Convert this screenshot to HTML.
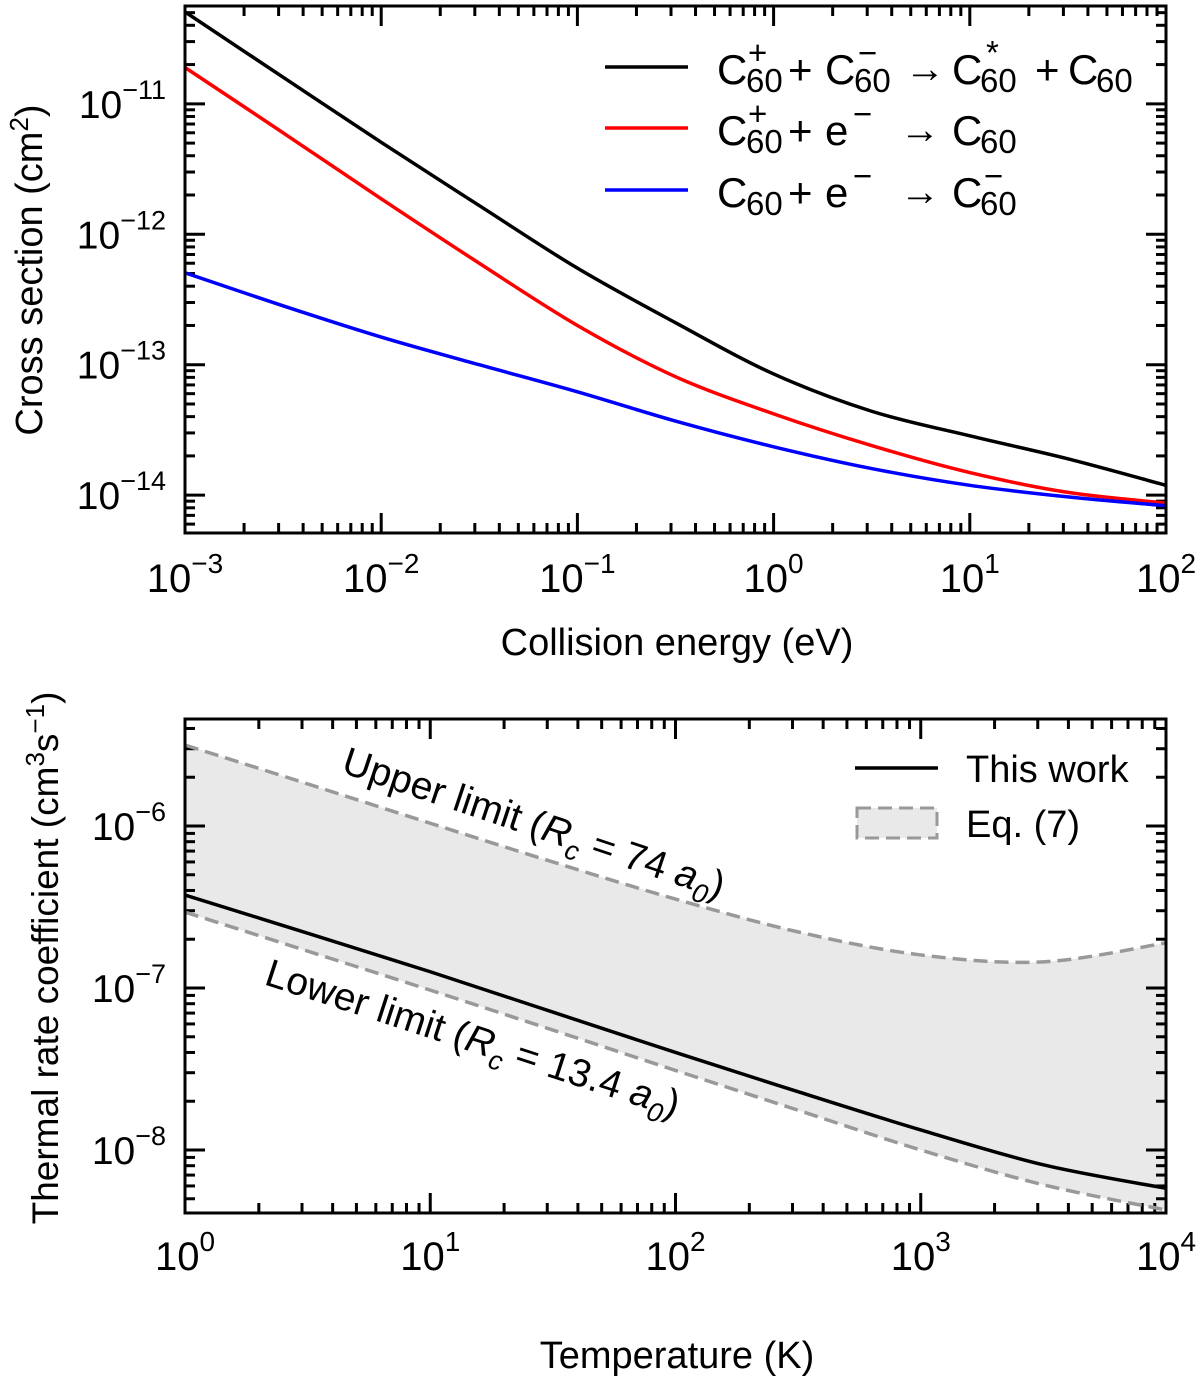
<!DOCTYPE html>
<html><head><meta charset="utf-8"><style>
html,body{margin:0;padding:0;background:#fff}
svg{display:block;font-family:"Liberation Sans","DejaVu Sans",sans-serif}
</style></head><body>
<svg id="fig" width="1200" height="1380" viewBox="0 0 1200 1380">
<defs>
<clipPath id="c1"><rect x="185" y="6" width="981" height="527"/></clipPath>
<clipPath id="c2"><rect x="185" y="719" width="981" height="494"/></clipPath>
</defs>
<g id="top"></g>
<g id="bot"></g>
</svg>
<script>
// ---- Panel 1 data ----
const energies=[1e-3,3.16e-3,1e-2,3.16e-2,1e-1,0.316,1,3.16,10,31.6,100];
const csCC=[5.07e-11,1.6e-11,5.07e-12,1.66e-12,5.5e-13,2.1e-13,8.5e-14,4.4e-14,2.85e-14,1.9e-14,1.19e-14];
const csCe=[1.9e-11,6.0e-12,1.87e-12,6.0e-13,2.0e-13,8.1e-14,4.2e-14,2.4e-14,1.49e-14,1.05e-14,8.7e-15];
const csNe=[5.07e-13,2.83e-13,1.63e-13,1.0e-13,6.2e-14,3.7e-14,2.35e-14,1.6e-14,1.19e-14,9.7e-15,8.3e-15];
const xTicks1=[-3,-2,-1,0,1,2];
const yTicks1=[-11,-12,-13,-14];
// ---- Panel 2 data ----
const temps=[1,3.16,10,31.6,100,316,1000,3162,10000];
const rateWork=[3.75e-7,2.18e-7,1.26e-7,7.1e-8,4.0e-8,2.29e-8,1.33e-8,8.1e-9,5.8e-9];
const rateLower=[2.94e-7,1.69e-7,9.7e-8,5.5e-8,3.1e-8,1.76e-8,1.0e-8,6.1e-9,4.26e-9];
const rateUpper=[3.16e-6,1.82e-6,1.04e-6,6.0e-7,3.54e-7,2.22e-7,1.6e-7,1.45e-7,1.9e-7];
const xTicks2=[0,1,2,3,4];
const yTicks2=[-6,-7,-8];

const NS="http://www.w3.org/2000/svg";
function mk(p,tag,attrs){const e=document.createElementNS(NS,tag);for(const k in attrs)e.setAttribute(k,attrs[k]);p.appendChild(e);return e;}
function smooth(pts){let d="M"+pts[0][0]+","+pts[0][1];for(let i=0;i<pts.length-1;i++){const p0=pts[i-1]||pts[i],p1=pts[i],p2=pts[i+1],p3=pts[i+2]||p2;
const c1=[p1[0]+(p2[0]-p0[0])/6,p1[1]+(p2[1]-p0[1])/6],c2=[p2[0]-(p3[0]-p1[0])/6,p2[1]-(p3[1]-p1[1])/6];
d+=" C"+c1[0]+","+c1[1]+" "+c2[0]+","+c2[1]+" "+p2[0]+","+p2[1];}return d;}

function axes(g,L,R,T,B,xmin,xmax,ymin,ymax,xT,yT,lblY){
  const sx=v=>L+(Math.log10(v)-xmin)/(xmax-xmin)*(R-L);
  const sy=v=>B-(Math.log10(v)-ymin)/(ymax-ymin)*(B-T);
  const ax=mk(g,"g",{stroke:"#000","stroke-width":3,fill:"none"});
  
  
  for(let d=Math.floor(xmin);d<=Math.ceil(xmax);d++)for(let m=1;m<10;m++){const v=Math.log10(m*Math.pow(10,d));if(v<xmin-1e-9||v>xmax+1e-9)continue;
    const x=L+(v-xmin)/(xmax-xmin)*(R-L),len=m==1?20:10;
    mk(ax,"line",{x1:x,x2:x,y1:B,y2:B-len});mk(ax,"line",{x1:x,x2:x,y1:T,y2:T+len});}
  for(let d=Math.floor(ymin);d<=Math.ceil(ymax);d++)for(let m=1;m<10;m++){const v=Math.log10(m*Math.pow(10,d));if(v<ymin-1e-9||v>ymax+1e-9)continue;
    const y=B-(v-ymin)/(ymax-ymin)*(B-T),len=m==1?20:10;
    mk(ax,"line",{y1:y,y2:y,x1:L,x2:L+len});mk(ax,"line",{y1:y,y2:y,x1:R,x2:R-len});}
  xT.forEach(e=>{const x=sx(Math.pow(10,e));const t=mk(g,"text",{x:x,y:lblY,"font-size":40,"text-anchor":"middle"});
    
    
    t.innerHTML='10<tspan dy="-19" font-size="28">'+(e<0?'\u2212'+(-e):e)+'</tspan>';});
  yT.forEach(e=>{const y=sy(Math.pow(10,e));const t=mk(g,"text",{x:166,y:y+14,"font-size":39,"text-anchor":"end"});
    
    
    t.innerHTML='10<tspan dy="-19" font-size="27">\u2212'+(-e)+'</tspan>';});
  return {sx,sy};
}
function pc(g,x,y,s,sz){const t=mk(g,"text",{x:x,y:y,"font-size":sz});t.textContent=s;return t;}
// ---- Panel 1 ----
const g1=document.getElementById("top");
const A1=axes(g1,185,1166,6,533,-3,2,-14.29,-10.25,xTicks1,yTicks1,592);
[[csCC,"#000"],[csCe,"#f00"],[csNe,"#00f"]].forEach(([arr,c],i)=>{
  const p=mk(g1,"path",{d:smooth(energies.map((e,j)=>[A1.sx(e),A1.sy(arr[j])])),stroke:c,"stroke-width":3.5,fill:"none","clip-path":"url(#c1)"});
  
  
});
const f1=mk(g1,"rect",{x:185,y:6,width:981,height:527,fill:"none",stroke:"#000","stroke-width":3});


[["#000",67],["#f00",128],["#00f",190]].forEach(([c,y])=>{const l=mk(g1,"line",{x1:605,x2:688,y1:y,y2:y,stroke:c,"stroke-width":3.5});
  
  });
const lg=mk(g1,"g",{});


// row 1 (baseline 84)
pc(lg,717,84,"C",42);pc(lg,746,92,"60",33);pc(lg,748,64,"+",33);pc(lg,788,84,"+",42);
pc(lg,825,84,"C",42);pc(lg,854,92,"60",33);pc(lg,858,64,"\u2212",33);pc(lg,905,82,"\u2192",40);
pc(lg,952,84,"C",42);pc(lg,980,92,"60",33);pc(lg,986,64,"*",33);pc(lg,1035,84,"+",42);pc(lg,1068,84,"C",42);pc(lg,1096,92,"60",33);
// row 2 (baseline 145)
pc(lg,717,145,"C",42);pc(lg,746,153,"60",33);pc(lg,748,125,"+",33);pc(lg,788,145,"+",42);
pc(lg,825,145,"e",42);pc(lg,853,125,"\u2212",33);pc(lg,900,143,"\u2192",40);pc(lg,952,145,"C",42);pc(lg,980,153,"60",33);
// row 3 (baseline 207)
pc(lg,717,207,"C",42);pc(lg,746,215,"60",33);pc(lg,788,207,"+",42);
pc(lg,825,207,"e",42);pc(lg,853,187,"\u2212",33);pc(lg,900,205,"\u2192",40);pc(lg,952,207,"C",42);pc(lg,980,215,"60",33);pc(lg,984,187,"\u2212",33);
const xl1=mk(g1,"text",{x:677,y:655,"font-size":38,"text-anchor":"middle"});xl1.textContent="Collision energy (eV)";


const yl1=mk(g1,"text",{x:0,y:0,"font-size":38,"text-anchor":"middle",transform:"translate(42,270) rotate(-90)"});
yl1.innerHTML='Cross section (cm<tspan dy="-14" font-size="26">2</tspan><tspan dy="14">)</tspan>';


// ---- Panel 2 ----
const g2=document.getElementById("bot");
const sx2=v=>185+Math.log10(v)/4*981, sy2=v=>826-(Math.log10(v)+6)*162;
const up=temps.map((t,j)=>[sx2(t),sy2(rateUpper[j])]), lo=temps.map((t,j)=>[sx2(t),sy2(rateLower[j])]);
const lor=lo.slice().reverse();
const band=mk(g2,"path",{d:smooth(up)+" L"+lor[0][0]+","+lor[0][1]+smooth(lor).replace(/^M[^C]*/," ")+" Z",fill:"#e9e9e9",stroke:"none","clip-path":"url(#c2)"});


const ymin2=-6-(1213-826)/162, ymax2=-6+(826-719)/162;
axes(g2,185,1166,719,1213,0,4,ymin2,ymax2,xTicks2,yTicks2,1270);
const pu=mk(g2,"path",{d:smooth(up),stroke:"#999","stroke-width":3.5,fill:"none","stroke-dasharray":"14 7","clip-path":"url(#c2)"});


const pl=mk(g2,"path",{d:smooth(lo),stroke:"#999","stroke-width":3.5,fill:"none","stroke-dasharray":"14 7","clip-path":"url(#c2)"});


const pw=mk(g2,"path",{d:smooth(temps.map((t,j)=>[sx2(t),sy2(rateWork[j])])),stroke:"#000","stroke-width":3.5,fill:"none","clip-path":"url(#c2)"});


const f2=mk(g2,"rect",{x:185,y:719,width:981,height:494,fill:"none",stroke:"#000","stroke-width":3});


const l2=mk(g2,"line",{x1:855,x2:938,y1:768,y2:768,stroke:"#000","stroke-width":3.5});


const r2=mk(g2,"rect",{x:857,y:808,width:80,height:30,fill:"#e9e9e9",stroke:"#999","stroke-width":3,"stroke-dasharray":"14 7"});


const t21=mk(g2,"text",{x:966,y:782,"font-size":38});t21.textContent="This work";


const t22=mk(g2,"text",{x:966,y:837,"font-size":38});t22.textContent="Eq. (7)";


const a1=mk(g2,"text",{x:0,y:0,"font-size":39,transform:"translate(340,772) rotate(18.5)"});
a1.innerHTML='Upper limit (<tspan font-style="italic">R</tspan><tspan dy="10" font-size="27" font-style="italic">c</tspan><tspan dy="-10"> = 74 </tspan><tspan font-style="italic">a</tspan><tspan dy="10" font-size="27" font-style="italic">0</tspan><tspan dy="-10">)</tspan>';


const a2=mk(g2,"text",{x:0,y:0,"font-size":39,transform:"translate(263,984) rotate(18)"});
a2.innerHTML='Lower limit (<tspan font-style="italic">R</tspan><tspan dy="10" font-size="27" font-style="italic">c</tspan><tspan dy="-10"> = 13.4 </tspan><tspan font-style="italic">a</tspan><tspan dy="10" font-size="27" font-style="italic">0</tspan><tspan dy="-10">)</tspan>';


const xl2=mk(g2,"text",{x:677,y:1368,"font-size":38,"text-anchor":"middle"});xl2.textContent="Temperature (K)";


const yl2=mk(g2,"text",{x:0,y:0,"font-size":37,"text-anchor":"middle",transform:"translate(58,958) rotate(-90)"});
yl2.innerHTML='Thermal rate coefficient (cm<tspan dy="-14" font-size="26">3</tspan><tspan dy="14">s</tspan><tspan dy="-14" font-size="26">\u22121</tspan><tspan dy="14">)</tspan>';


</script>
</body></html>
